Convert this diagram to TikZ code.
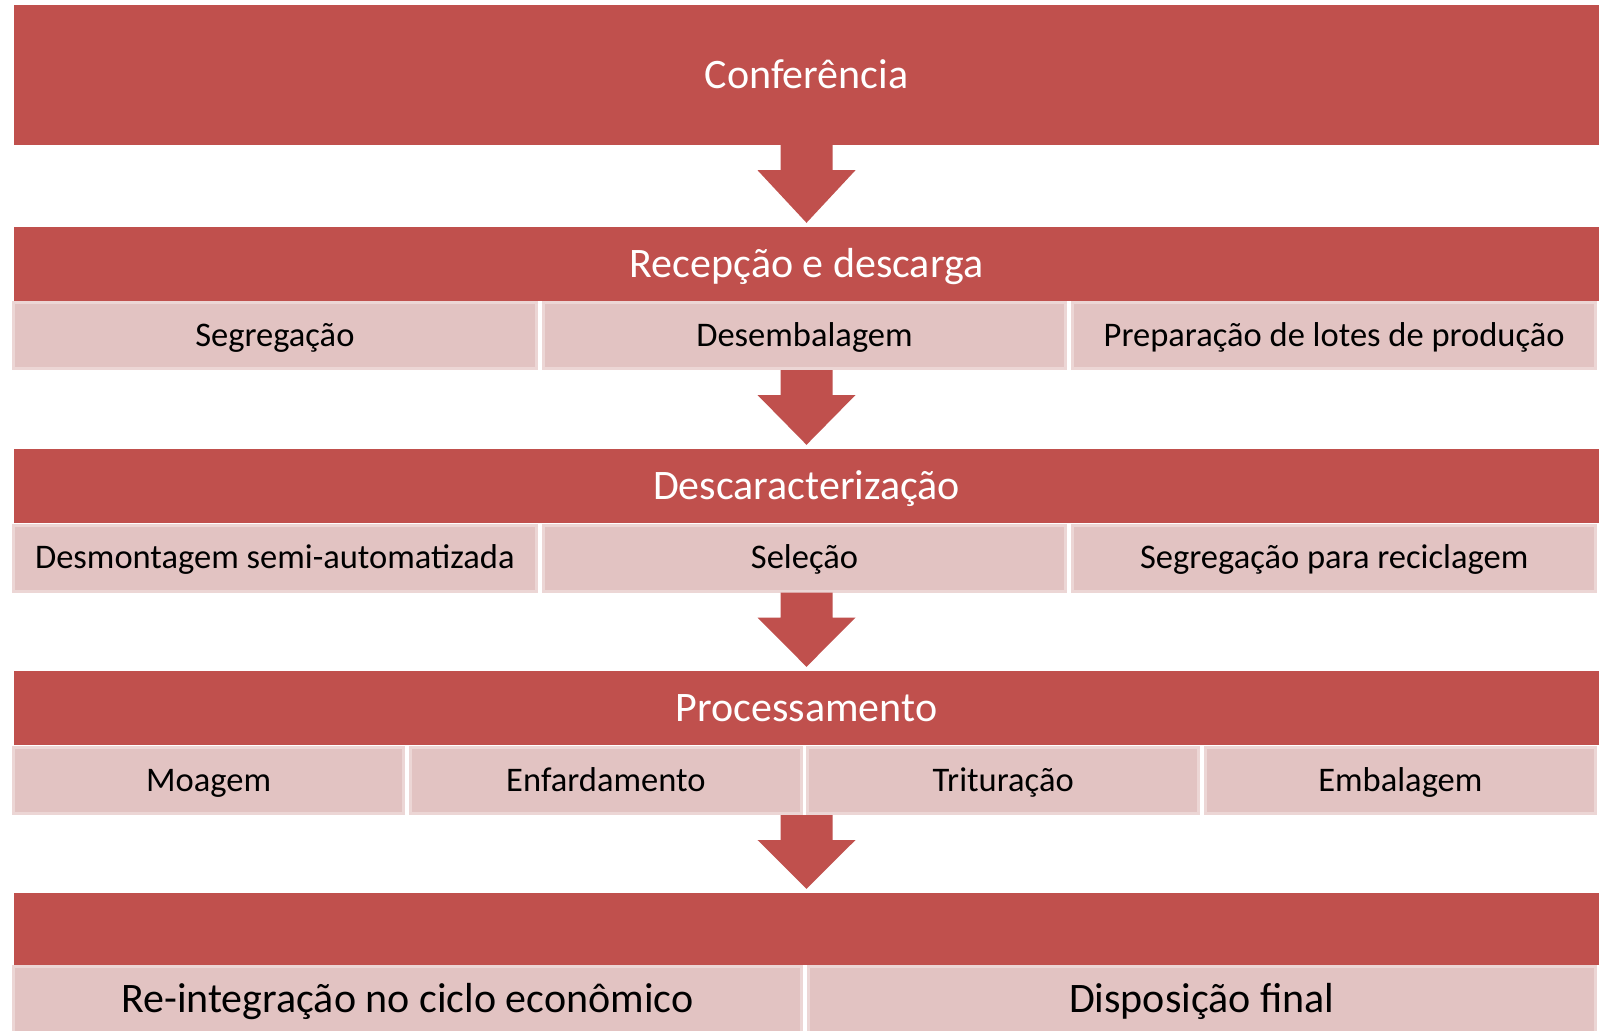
\documentclass[tikz,border=0pt]{standalone}
\usepackage{fontspec}
\setmainfont{Carlito}
\usetikzlibrary{calc}

\definecolor{barred}{HTML}{C0504D}
\definecolor{cellpink}{HTML}{E2C3C2}
\definecolor{celledge}{HTML}{ECD6D5}

% block arrow from the bottom of #1 down to the top of #2
\newcommand{\flowarrow}[2]{%
  \fill[barred] ($(#2.north |- #1.south)+(-26,0)$) -- ++(52,0) -- ++(0,25) -- ++(23,0)
    -- ($(#2.north)+(0,-4)$) -- ($(#2.north |- #1.south)+(-49,25)$) -- ++(23,0) -- cycle;}

\begin{document}
\begin{tikzpicture}[x=1pt,y=-1pt]
  \tikzstyle{bar}=[fill=barred,text=white,minimum width=1585pt,inner sep=0pt,
    font=\fontsize{42}{50}\selectfont,text height=36.5pt,text depth=10pt]
  \tikzstyle{cell}=[fill=cellpink,draw=celledge,line width=3pt,inner sep=0pt,minimum height=66pt,
    font=\fontsize{34.5}{41}\selectfont,text height=30pt,text depth=8.2pt]

  \useasboundingbox[fill=white] (0,0) rectangle (1599,1031);

  \node[bar,minimum height=140pt] (conf) at (806.5,75) {Conferência};
  \node[bar,minimum height=74pt] (recep) at (806.5,264) {Recepção e descarga};
  \node[bar,minimum height=74pt] (desc) at (806.5,486) {Descaracterização};
  \node[bar,minimum height=74pt] (proc) at (806.5,708) {Processamento};
  \node[bar,minimum height=72pt] (dest) at (806.5,929) {};

  \foreach \lbl [count=\i] in {Segregação,Desembalagem,Preparação de lotes de produção}
    \node[cell,minimum width=522.7pt] (rec\i) at ({10+(\i-0.5)*529.67},335.5) {\lbl};
  \foreach \lbl [count=\i] in {Desmontagem semi-automatizada,Seleção,Segregação para reciclagem}
    \node[cell,minimum width=522.7pt] (des\i) at ({10+(\i-0.5)*529.67},558) {\lbl};
  \foreach \lbl [count=\i] in {Moagem,Enfardamento,Trituração,Embalagem}
    \node[cell,minimum width=390.3pt] (pro\i) at ({10+(\i-0.5)*397.25},780.5) {\lbl};
  \foreach \lbl [count=\i] in {Re-integração no ciclo econômico,Disposição final}
    \node[cell,minimum width=787.5pt,minimum height=66pt,font=\fontsize{42}{50}\selectfont,
      text height=36.5pt,text depth=10pt] (dst\i) at ({10+(\i-0.5)*794.5},999) {\lbl};

  \flowarrow{conf}{recep}
  \flowarrow{rec1}{desc}
  \flowarrow{des1}{proc}
  \flowarrow{pro1}{dest}
\end{tikzpicture}
\end{document}
